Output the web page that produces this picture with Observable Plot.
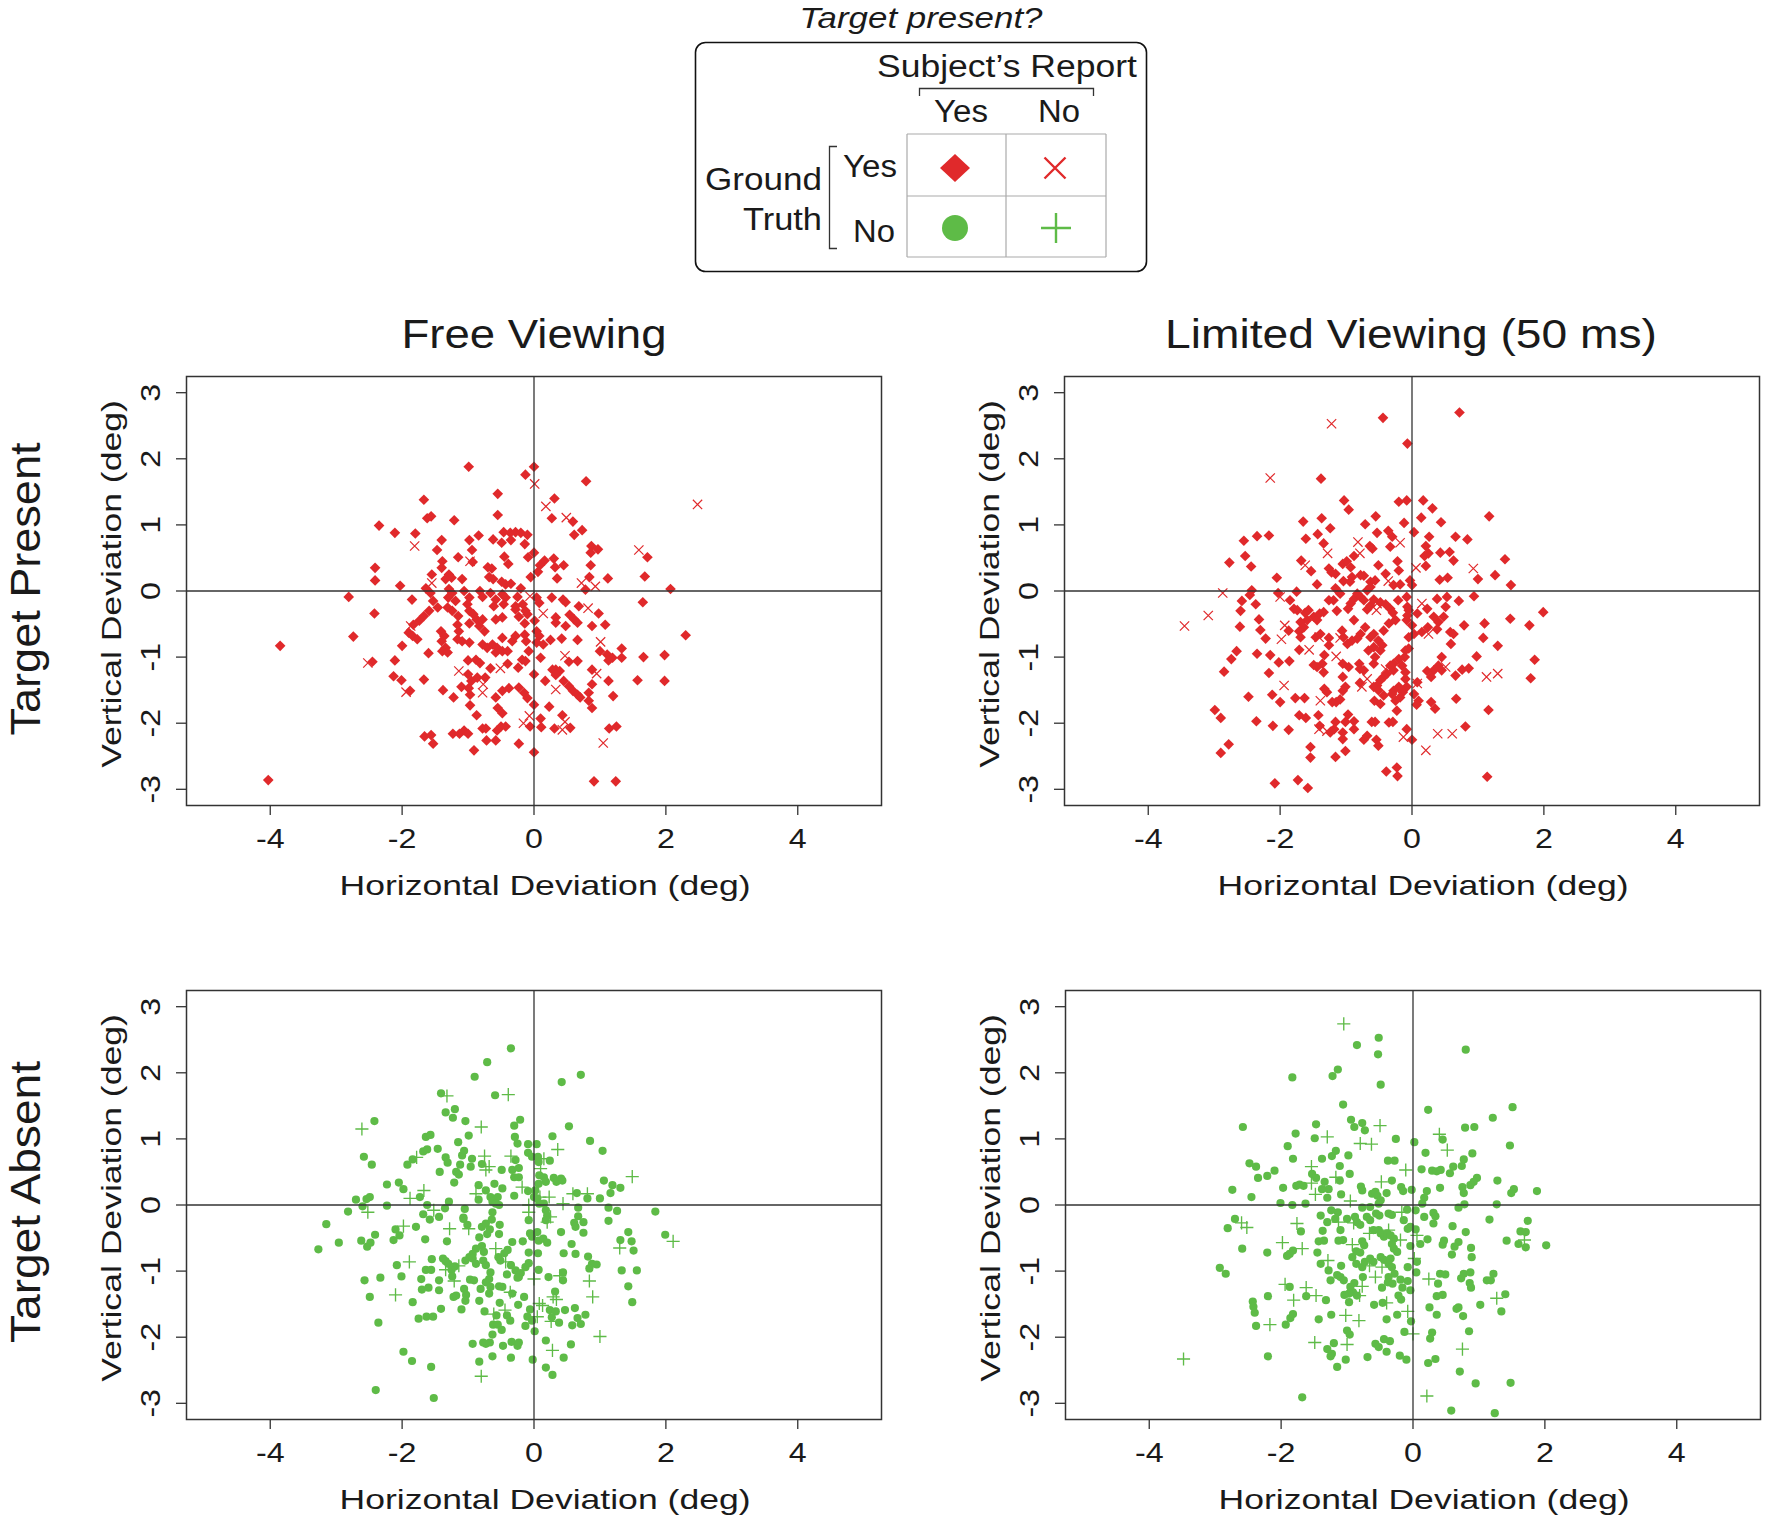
<!DOCTYPE html>
<html>
<head>
<meta charset="utf-8">
<script src="https://cdn.jsdelivr.net/npm/d3@7"></script>
<script src="https://cdn.jsdelivr.net/npm/@observablehq/plot@0.6"></script>
<style>
  html, body { margin: 0; padding: 0; background: #fff; }
  #root { position: relative; width: 1770px; height: 1524px; overflow: hidden; background: #fff; }
  .layer { position: absolute; left: 0; top: 0; }
</style>
</head>
<body>
<div id="root"></div>
<script>
// ---------------- DATA ----------------
const columnTitles = ["Free Viewing", "Limited Viewing (50 ms)"];
const rowTitles = ["Target Present", "Target Absent"];
const xLabel = "Horizontal Deviation (deg)";
const yLabel = "Vertical Deviation (deg)";
const xTicks = [-4, -2, 0, 2, 4];
const yTicks = [-3, -2, -1, 0, 1, 2, 3];
const legendTitle = "Target present?";
const legendReport = "Subject\u2019s Report";
const legendAnswers = ["Yes", "No"];
const legendTruth = ["Ground", "Truth"];

// Target present, free viewing: reported yes (diamond)
const freePresentYes = [[-0.99,1.88],[0,1.88],[-0.13,1.76],[0.79,1.66],[-0.55,1.47],[0.31,1.40],[-1.67,1.38],[-0.55,1.15],[-1.62,1.10],[-1.56,1.13],[-1.21,1.07],[0.27,1.10],[0.59,1.05],[-2.35,0.99],[-2.11,0.88],[-1.80,0.87],[-0.84,0.84],[-0.46,0.89],[-0.36,0.88],[-0.28,0.89],[-0.20,0.88],[-0.10,0.85],[0.73,0.92],[0.61,0.85],[-1.40,0.77],[-0.98,0.77],[-0.62,0.78],[-0.49,0.73],[-0.35,0.77],[-0.14,0.71],[0.87,0.68],[0.97,0.63],[0.86,0.58],[-1.47,0.62],[-0.94,0.62],[0,0.58],[-1.15,0.51],[-0.93,0.44],[-1.39,0.45],[-0.45,0.52],[-0.39,0.41],[-0.09,0.51],[0.16,0.46],[0.09,0.39],[0.30,0.49],[0.32,0.36],[0.45,0.39],[0.86,0.39],[1.72,0.51],[-2.41,0.35],[-2.41,0.16],[-1.55,0.25],[-1.40,0.35],[-1.29,0.25],[-1.25,0.20],[-1.34,0.18],[-1.09,0.18],[-0.70,0.36],[-0.64,0.34],[-0.68,0.21],[-0.62,0.18],[-0.49,0.14],[-0.43,0.10],[-0.35,0.11],[-0.05,0.21],[0.06,0.29],[0.35,0.19],[0.84,0.21],[1.12,0.19],[1.68,0.22],[0.78,0.02],[2.07,0.03],[-2.03,0.08],[-1.64,0.04],[-1.57,-0.03],[-2.81,-0.09],[-1.85,-0.13],[-1.29,0.03],[-1.24,-0.03],[-1.30,-0.10],[-1.19,-0.15],[-1.06,0],[-0.98,-0.10],[-1.01,-0.20],[-0.82,0],[-0.78,-0.09],[-0.66,-0.03],[-0.58,-0.13],[-0.61,-0.23],[-0.48,-0.05],[-0.43,-0.10],[-0.46,-0.20],[-0.25,-0.09],[-0.20,0.04],[-0.28,-0.23],[-0.17,-0.20],[-0.13,-0.30],[0.04,-0.10],[0.08,-0.18],[0.27,-0.10],[0.44,-0.13],[0.48,-0.17],[-1.53,-0.15],[-1.46,-0.25],[-1.59,-0.30],[-1.67,-0.38],[-1.74,-0.45],[-1.83,-0.51],[-1.90,-0.63],[-1.84,-0.68],[-1.77,-0.73],[-1.31,-0.25],[-1.24,-0.30],[-1.15,-0.38],[-0.98,-0.30],[-0.92,-0.35],[-0.87,-0.43],[-0.83,-0.53],[-0.75,-0.61],[-0.48,-0.40],[-0.28,-0.28],[-0.23,-0.39],[-0.10,-0.35],[-0.14,-0.49],[0.01,-0.45],[0.04,-0.61],[0.08,-0.68],[0.33,-0.40],[0.33,-0.48],[0.48,-0.53],[0.54,-0.36],[0.61,-0.43],[0.66,-0.48],[0.68,-0.23],[0.98,-0.34],[0.88,-0.53],[1.08,-0.51],[1.65,-0.17],[2.30,-0.67],[-2.42,-0.34],[-2.74,-0.69],[-3.85,-0.83],[-1.41,-0.61],[-1.36,-0.68],[-1.40,-0.76],[-1.34,-0.86],[-1.39,-0.91],[-1.31,-0.93],[-1.14,-0.61],[-1.16,-0.73],[-1.09,-0.76],[-0.98,-0.78],[-0.78,-0.81],[-0.71,-0.86],[-0.63,-0.81],[-0.56,-0.86],[-0.48,-0.71],[-0.33,-0.76],[-0.28,-0.68],[-0.14,-0.66],[-0.58,-0.93],[-0.48,-0.91],[-0.40,-0.91],[-0.12,-0.76],[-0.08,-0.91],[0.04,-0.78],[0.14,-0.81],[0.25,-0.74],[0.42,-0.72],[0.66,-0.74],[1.0,-0.91],[1.11,-0.96],[1.19,-1.01],[1.33,-0.87],[1.33,-1.01],[1.13,-1.05],[1.66,-1.00],[1.98,-0.97],[-2.0,-0.83],[-1.60,-0.94],[-2.45,-1.07],[-2.11,-1.05],[-2.13,-1.29],[-2.01,-1.35],[-1.67,-1.34],[-1.88,-1.51],[-1.38,-1.50],[-1.22,-1.61],[-1.10,-1.45],[-0.99,-1.47],[-1.0,-1.05],[-0.88,-1.04],[-0.82,-1.09],[-0.95,-1.36],[-0.86,-1.31],[-0.74,-1.31],[-0.66,-1.17],[-0.40,-1.10],[-0.24,-1.16],[-0.18,-1.04],[-0.13,-1.06],[-0.97,-1.57],[-0.97,-1.73],[-0.58,-1.61],[-0.48,-1.51],[-0.38,-1.47],[-0.23,-1.46],[-0.15,-1.54],[-0.10,-1.62],[0,-1.26],[0.10,-1.01],[0.28,-1.19],[0.33,-1.19],[0.39,-1.21],[0.33,-1.27],[0.53,-1.07],[0.66,-1.06],[0.17,-1.36],[0.45,-1.36],[0.53,-1.44],[0.59,-1.51],[0.66,-1.57],[0.70,-1.61],[0.88,-1.19],[0.88,-1.41],[0.83,-1.54],[0.83,-1.66],[0.88,-1.77],[1.13,-1.36],[1.57,-1.35],[1.98,-1.36],[1.20,-1.59],[0,-1.72],[0.23,-1.75],[-0.55,-1.77],[-0.48,-1.85],[-0.87,-1.88],[-0.06,-2.05],[0.10,-1.93],[0.11,-2.06],[0.43,-1.88],[0.31,-2.08],[0.55,-2.07],[-0.78,-2.08],[-0.73,-2.08],[-0.56,-2.11],[-0.50,-2.05],[-0.43,-2.05],[-1.23,-2.16],[-1.13,-2.16],[-1.06,-2.11],[-1.0,-2.16],[-1.66,-2.20],[-1.56,-2.18],[-1.53,-2.31],[-0.72,-2.26],[-0.58,-2.26],[-0.23,-2.31],[-0.91,-2.41],[0,-2.44],[1.14,-2.08],[1.25,-2.05],[0.91,-2.88],[1.24,-2.88],[-4.03,-2.86],[-0.98,-0.49],[-1.16,-0.51],[-0.78,-0.43],[-0.58,-0.43],[-1.00,-1.26]];
// Target present, free viewing: reported no (times)
const freePresentNo = [[0.01,1.62],[0.18,1.28],[2.48,1.31],[0.49,1.11],[-1.81,0.68],[1.59,0.62],[-0.97,0.45],[0.72,0.12],[0.93,0.07],[-1.55,0.12],[-0.06,-0.08],[0.14,-0.34],[-1.87,-0.53],[0.82,-0.26],[1.01,-0.77],[-2.52,-1.09],[-1.94,-1.53],[-1.14,-1.21],[-0.77,-1.41],[-0.51,-1.17],[-0.78,-1.54],[0.33,-1.49],[0.95,-1.25],[-0.07,-1.89],[-0.16,-2.0],[0.47,-1.98],[0.43,-2.1],[1.05,-2.30],[0.47,-0.98]];

// Target present, limited viewing: reported yes (diamond)
const limitedPresentYes = [[0.72,2.70],[-0.44,2.62],[-0.07,2.23],[-1.38,1.70],[-1.03,1.37],[-0.96,1.23],[-0.20,1.35],[-0.08,1.37],[0.17,1.37],[0.31,1.25],[1.17,1.13],[-1.65,1.05],[-1.37,1.10],[-1.24,0.95],[-0.71,1.01],[-0.55,1.13],[-0.12,1.03],[0.14,1.11],[0.44,1.04],[-2.55,0.76],[-2.35,0.83],[-2.17,0.84],[-1.61,0.79],[-1.43,0.86],[-1.34,0.72],[-0.53,0.88],[-0.36,0.91],[-0.30,0.82],[-0.33,0.67],[-0.64,0.68],[-0.60,0.64],[0.03,0.89],[0.26,0.82],[0.21,0.68],[0.66,0.82],[0.84,0.78],[-2.53,0.53],[-2.77,0.43],[-2.44,0.37],[-0.88,0.53],[-0.22,0.45],[0.19,0.53],[0.25,0.57],[0.43,0.58],[0.57,0.59],[0.21,0.38],[0.63,0.46],[1.41,0.48],[1.26,0.24],[1.0,0.18],[1.50,0.09],[-1.68,0.46],[-1.53,0.30],[-1.26,0.34],[-1.22,0.28],[-1.16,0.26],[-1.05,0.41],[-0.99,0.45],[-0.93,0.36],[-1.04,0.15],[-0.91,0.21],[-0.78,0.24],[-0.73,0.23],[-0.51,0.39],[-0.40,0.26],[-0.63,0.14],[-0.56,0.16],[-0.20,0.31],[-0.03,0.16],[0,0.09],[0.42,0.17],[0.54,0.20],[-2.05,0.20],[-1.44,0.10],[-2.43,0.01],[-2.46,-0.06],[-2.58,-0.15],[-2.37,-0.20],[-2.60,-0.30],[-2.61,-0.54],[-2.32,-0.43],[-2.30,-0.59],[-2.22,-0.72],[-2.03,-0.03],[-1.85,-0.14],[-1.75,-0.01],[-1.79,-0.27],[-1.74,-0.29],[-1.87,-0.60],[-2.66,-0.91],[-2.74,-1.03],[-2.85,-1.22],[-2.35,-0.95],[-2.15,-0.97],[-2.17,-1.24],[-2.02,-1.08],[-1.86,-1.06],[-1.71,-0.89],[-2.48,-1.60],[-2.12,-1.57],[-2.0,-1.68],[-1.77,-1.62],[-1.63,-1.62],[-2.99,-1.80],[-2.90,-1.92],[-2.36,-1.97],[-2.11,-2.04],[-1.87,-2.10],[-1.71,-1.88],[-1.61,-1.92],[-2.78,-2.32],[-2.90,-2.45],[-2.08,-2.91],[-1.73,-2.86],[-1.58,-2.98],[-1.62,-0.33],[-1.57,-0.29],[-1.59,-0.44],[-1.69,-0.47],[-1.64,-0.55],[-1.49,-0.39],[-1.44,-0.44],[-1.40,-0.34],[-1.34,-0.32],[-1.19,-0.14],[-1.14,-0.30],[-0.93,-0.19],[-0.97,-0.27],[-0.88,-0.12],[-0.83,-0.04],[-0.78,-0.09],[-0.73,-0.14],[-0.68,-0.28],[-0.63,-0.22],[-0.58,-0.13],[-0.48,-0.17],[-0.40,-0.20],[-0.33,-0.27],[-0.29,-0.33],[-0.21,-0.14],[-0.25,-0.44],[-0.35,-0.49],[-0.43,-0.60],[-0.08,-0.09],[-0.05,-0.29],[-0.08,-0.44],[0,-0.52],[0.03,-0.65],[-0.05,-0.70],[0.08,-0.34],[0.23,-0.27],[0.38,-0.12],[0.53,-0.09],[0.71,-0.15],[0.51,-0.24],[0.48,-0.39],[0.40,-0.47],[0.33,-0.39],[0.24,-0.55],[0.15,-0.62],[0.38,-0.58],[0.58,-0.62],[0.63,-0.65],[0.79,-0.52],[0.94,-0.08],[1.10,-0.49],[1.49,-0.42],[1.78,-0.52],[1.99,-0.32],[1.08,-0.71],[0.59,-0.80],[1.30,-0.83],[0.98,-0.99],[1.86,-1.04],[1.80,-1.32],[1.16,-1.80],[0.81,-2.05],[1.14,-2.81],[0.67,-1.63],[0.76,-1.19],[0.86,-1.17],[0.66,-1.28],[0.45,-1.0],[0.40,-1.13],[0.45,-1.20],[0.33,-1.20],[0.23,-1.21],[0.29,-1.30],[0.08,-1.38],[0.03,-1.56],[0.10,-1.66],[0.07,-1.72],[0.29,-1.68],[0.35,-1.78],[0,-2.25],[-0.08,-2.09],[-0.10,-1.33],[-0.08,-1.45],[-0.14,-1.53],[-0.18,-1.61],[-0.20,-1.45],[-0.28,-1.51],[-0.30,-1.56],[-0.25,-1.66],[-0.23,-1.81],[-0.10,-0.90],[-0.11,-1.0],[-0.15,-1.13],[-0.10,-1.23],[-0.33,-1.13],[-0.28,-1.20],[-0.38,-1.25],[-0.43,-1.30],[-0.48,-1.35],[-0.53,-1.43],[-0.58,-1.45],[-0.51,-1.50],[-0.43,-1.58],[-0.48,-1.71],[-0.57,-1.66],[-0.79,-1.39],[-0.80,-1.10],[-0.79,-1.18],[-0.73,-1.20],[-0.58,-1.10],[-0.56,-1.0],[-0.66,-0.90],[-0.58,-0.85],[-0.51,-0.75],[-0.48,-0.90],[-0.45,-0.82],[-0.78,-0.65],[-0.83,-0.72],[-0.91,-0.75],[-0.98,-0.80],[-1.04,-0.70],[-1.06,-0.60],[-0.88,-0.44],[-0.71,-0.55],[-0.63,-0.70],[-0.58,-0.65],[-1.26,-0.71],[-1.26,-0.82],[-1.33,-0.97],[-1.36,-1.10],[-1.44,-1.15],[-1.49,-1.12],[-1.34,-1.23],[-1.05,-1.10],[-0.96,-1.15],[-1.05,-1.30],[-1.01,-1.45],[-1.05,-1.51],[-1.33,-1.48],[-1.29,-1.53],[-1.21,-1.68],[-1.15,-1.68],[-1.09,-1.64],[-1.42,-1.88],[-1.16,-1.98],[-1.01,-1.98],[-0.97,-1.87],[-0.88,-1.97],[-1.40,-2.04],[-1.24,-2.14],[-1.18,-2.09],[-1.05,-2.14],[-1.05,-2.24],[-0.88,-2.09],[-0.73,-2.25],[-0.68,-2.19],[-0.54,-2.25],[-0.51,-2.34],[-0.61,-1.98],[-0.56,-1.98],[-0.35,-1.99],[-0.29,-1.98],[-1.54,-2.36],[-1.54,-2.52],[-1.16,-2.51],[-1.01,-2.42],[-0.39,-2.73],[-0.23,-2.67],[-0.22,-2.80],[-1.71,-0.61],[-1.69,-0.70],[-1.46,-0.70],[-1.39,-0.65],[-1.26,-0.14],[-0.94,0.14],[-1.16,0.04],[-1.09,-0.04],[-0.68,0.01],[-0.63,0.06],[-0.28,0.09],[-0.18,0.10],[-0.07,-0.24],[-0.07,-0.37],[-0.20,-1.03],[-0.28,-1.10],[-0.05,-0.87]];
// Target present, limited viewing: reported no (times)
const limitedPresentNo = [[-1.22,2.53],[-2.15,1.71],[-0.82,0.74],[-0.18,0.73],[-1.28,0.57],[-0.79,0.57],[0.93,0.34],[-1.62,0.39],[-0.36,0.15],[0.06,0.35],[-2.87,-0.03],[-2.0,-0.09],[-3.09,-0.37],[-3.45,-0.53],[-1.93,-0.52],[-1.98,-0.73],[-1.56,-0.89],[-1.94,-1.43],[-0.53,-0.19],[-0.54,-0.29],[0.15,-0.19],[0.25,-0.65],[1.13,-1.30],[1.30,-1.25],[0.51,-1.15],[0.08,-1.40],[0.39,-2.16],[0.61,-2.16],[0.21,-2.41],[-0.13,-2.21],[-0.68,-1.33],[-0.76,-1.45],[-0.40,-1.18],[-1.09,-0.71],[-1.15,-0.99],[-1.39,-1.66],[-1.41,-2.09],[-1.29,-2.12],[-1.41,-0.70]];

// Target absent, free viewing: reported yes (circle)
const freeAbsentYes = [[-0.35,2.37],[-0.71,2.16],[-0.90,1.94],[0.71,1.97],[0.42,1.86],[-1.41,1.69],[-0.59,1.66],[-1.34,1.40],[-1.20,1.45],[-1.23,1.32],[-2.42,1.27],[-1.04,1.27],[-0.21,1.29],[-0.30,1.20],[0.53,1.19],[-0.99,1.05],[-1.64,1.03],[-1.57,1.06],[0.28,1.04],[-0.29,1.03],[-0.25,0.93],[-0.09,0.92],[0.04,0.92],[0.85,0.97],[1.04,0.82],[-1.15,0.95],[-1.46,0.85],[-1.68,0.81],[-1.62,0.84],[-2.58,0.73],[-2.46,0.61],[-1.84,0.69],[-1.92,0.61],[-1.34,0.72],[-1.09,0.75],[-1.06,0.82],[-0.94,0.70],[-0.79,0.62],[-1.12,0.61],[-0.96,0.58],[-1.31,0.64],[-1.43,0.50],[-1.18,0.50],[-1.14,0.46],[-1.21,0.34],[-0.28,0.68],[-0.33,0.53],[-0.23,0.56],[-0.49,0.53],[-0.09,0.79],[-0.03,0.73],[0.06,0.73],[0.07,0.65],[0.24,0.67],[0.08,0.45],[0.15,0.42],[0.18,0.35],[0.07,0.32],[0.30,0.41],[0.41,0.40],[-0.30,0.42],[-0.23,0.42],[1.06,0.37],[1.19,0.30],[1.31,0.26],[1.16,0.18],[-2.23,0.31],[-2.05,0.34],[-1.98,0.24],[-1.73,0.12],[-2.70,0.08],[-2.54,0.09],[-2.49,0.12],[-2.60,-0.02],[-2.82,-0.10],[-2.23,-0.01],[-1.62,0],[-1.68,-0.14],[-1.58,-0.22],[-1.44,-0.18],[-1.35,-0.05],[-1.29,0.05],[-1.05,-0.06],[-1.07,-0.19],[-0.84,0.30],[-0.73,0.22],[-0.60,0.32],[-0.48,0.25],[-0.84,0.08],[-0.66,0.12],[-0.55,0.12],[-0.53,0],[-0.63,0.05],[-0.58,0.02],[-0.30,0.14],[-0.09,0.21],[0,0.12],[0.05,0.10],[0.08,0.02],[0.15,0.02],[0.02,0.22],[0.18,-0.08],[0.20,-0.16],[0.18,-0.23],[0.34,0.35],[0.43,0.37],[0.65,0.18],[0.81,0.10],[1.0,0.10],[0.67,-0.04],[1.13,-0.04],[1.26,-0.09],[0.67,-0.17],[0.75,-0.26],[0.61,-0.27],[0.63,-0.33],[0.75,-0.42],[1.13,-0.24],[1.84,-0.10],[1.99,-0.45],[1.43,-0.41],[1.31,-0.53],[1.48,-0.55],[1.51,-0.69],[1.33,-0.99],[1.56,-0.99],[1.43,-1.23],[1.49,-1.47],[-3.15,-0.29],[-3.27,-0.67],[-2.96,-0.57],[-2.62,-0.54],[-2.53,-0.63],[-2.48,-0.57],[-2.41,-0.45],[-2.13,-0.53],[-2.10,-0.37],[-2.04,-0.46],[-1.79,-0.33],[-1.65,-0.52],[-1.32,-0.55],[-1.07,-0.21],[-1.01,-0.30],[-0.79,-0.33],[-0.73,-0.28],[-0.67,-0.37],[-0.71,-0.44],[-0.63,-0.11],[-0.52,-0.30],[-0.53,-0.44],[-0.64,-0.22],[-0.08,-0.23],[-0.06,-0.43],[-0.03,-0.48],[0.05,-0.41],[0.07,-0.54],[0.14,-0.51],[0.20,-0.57],[-0.83,-0.49],[-0.33,-0.56],[-0.17,-0.55],[0.41,-0.41],[0.57,-0.59],[0.63,-0.74],[0.82,-0.78],[0.45,-0.73],[-0.79,-0.62],[-0.76,-0.71],[-0.88,-0.66],[-0.93,-0.74],[-0.98,-0.79],[-1.04,-0.84],[-0.93,-0.81],[-0.88,-0.89],[-0.77,-0.84],[-0.73,-0.91],[-0.66,-1.02],[-0.68,-1.12],[-0.73,-1.17],[-0.54,-0.79],[-0.51,-0.84],[-0.40,-0.68],[-0.45,-0.73],[-0.35,-0.91],[-0.28,-0.99],[-0.23,-1.09],[-0.20,-1.03],[-0.13,-0.94],[-0.08,-0.88],[-0.08,-0.72],[0.06,-0.73],[0.07,-0.98],[0.22,-1.09],[0.44,-1.02],[0.44,-1.14],[0.88,-0.89],[0.95,-0.90],[0.84,-0.96],[-0.41,-1.05],[-0.25,-1.10],[-1.34,-0.85],[-1.30,-0.89],[-1.25,-0.98],[-1.20,-0.93],[-1.24,-1.08],[-1.38,-0.81],[-1.55,-0.82],[-1.64,-0.98],[-1.56,-0.98],[-2.08,-0.91],[-2.01,-1.08],[-2.33,-1.10],[-2.57,-1.14],[-2.49,-1.39],[-2.36,-1.78],[-1.84,-1.47],[-1.71,-1.12],[-1.70,-1.28],[-1.60,-1.25],[-1.44,-1.14],[-1.44,-1.29],[-1.41,-1.57],[-1.75,-1.72],[-1.63,-1.69],[-1.53,-1.69],[-1.22,-1.39],[-1.18,-1.37],[-1.10,-1.58],[-1.06,-1.27],[-1.03,-1.36],[-1.04,-1.45],[-0.97,-1.13],[-0.91,-1.14],[-0.81,-1.27],[-0.83,-1.45],[-0.66,-1.24],[-0.68,-1.34],[-0.75,-1.61],[-0.52,-1.48],[-0.53,-1.23],[-0.48,-1.24],[-0.33,-1.34],[-0.15,-1.39],[-0.24,-1.51],[-0.57,-1.67],[-0.41,-1.67],[-0.36,-1.75],[-0.62,-1.81],[-0.55,-1.81],[-0.49,-1.89],[-0.63,-1.96],[-0.06,-1.58],[-0.10,-1.69],[-0.13,-1.83],[-0.03,-1.75],[0.01,-1.91],[0.24,-1.59],[0.33,-1.61],[0.27,-1.70],[0.32,-1.31],[0.38,-1.78],[0.47,-1.59],[0.62,-1.56],[0.66,-1.71],[0.71,-1.80],[0.58,-1.82],[0.78,-1.66],[-0.93,-2.10],[-0.77,-2.08],[-0.73,-2.10],[-0.67,-2.08],[-0.47,-2.13],[-0.34,-2.07],[-0.25,-2.13],[-0.23,-2.08],[-0.83,-2.37],[-0.63,-2.29],[-0.35,-2.31],[-0.02,-2.34],[0.18,-2.05],[0.56,-2.11],[0.45,-2.31],[0.18,-2.46],[0.28,-2.57],[-1.98,-2.22],[-1.85,-2.36],[-1.56,-2.45],[-2.40,-2.80],[-1.52,-2.92]];
// Target absent, free viewing: reported no (plus)
const freeAbsentNo = [[-1.32,1.65],[-0.39,1.67],[-2.61,1.15],[-0.80,1.18],[0.36,0.84],[-1.78,0.72],[-0.75,0.74],[-0.68,0.58],[-0.73,0.53],[-0.35,0.74],[0.15,0.70],[0.10,0.55],[1.49,0.43],[-1.67,0.22],[-1.88,0.10],[-2.52,-0.11],[-1.52,-0.08],[-0.88,0.17],[-0.18,0.27],[0.09,0.12],[0.23,0.12],[-0.08,0],[-0.08,-0.11],[0.25,-0.18],[0.20,-0.26],[0.44,0.02],[0.59,0.17],[0.81,0.17],[2.11,-0.55],[1.30,-0.65],[-1.98,-0.32],[-1.28,-0.36],[-0.99,-0.36],[-0.58,-0.66],[-0.43,-0.86],[0,-1.12],[0.39,-1.07],[0.84,-1.15],[0.89,-1.39],[-1.34,-0.98],[-1.14,-0.92],[-1.89,-0.86],[-2.10,-1.36],[-1.21,-1.15],[-0.61,-1.65],[-0.44,-1.59],[-0.36,-1.32],[0.08,-1.49],[0.13,-1.52],[0.05,-1.69],[0.29,-1.39],[0.34,-1.43],[0.26,-1.76],[1.0,-1.99],[0.28,-2.20],[-0.80,-2.59]];

// Target absent, limited viewing: reported yes (circle)
const limitedAbsentYes = [[-0.52,2.53],[-0.85,2.42],[-0.53,2.28],[0.80,2.35],[-1.14,2.05],[-1.22,1.95],[-1.83,1.93],[-0.49,1.82],[-1.06,1.52],[0.23,1.44],[1.51,1.48],[1.21,1.32],[-2.58,1.18],[-0.94,1.29],[-0.89,1.18],[-0.77,1.24],[-0.73,1.13],[-1.47,1.22],[-1.78,1.08],[-1.49,1.01],[0.79,1.17],[0.93,1.18],[0.45,0.99],[-0.26,1.0],[0.02,0.95],[1.47,0.90],[-1.90,0.89],[-1.82,0.70],[-1.38,0.70],[-1.23,0.74],[-1.17,0.82],[-0.98,0.75],[-0.38,0.67],[-0.28,0.67],[0.19,0.79],[0.90,0.78],[0.77,0.69],[0.74,0.59],[0.61,0.58],[0.56,0.48],[-2.48,0.63],[-2.38,0.58],[-2.35,0.41],[-2.21,0.44],[-2.10,0.52],[-1.53,0.47],[-1.47,0.41],[-1.11,0.59],[-0.96,0.47],[-1.11,0.37],[0.13,0.54],[0.29,0.52],[0.36,0.51],[0.42,0.53],[0.97,0.41],[0.92,0.35],[0.87,0.30],[0.75,0.27],[0.77,0.18],[1.28,0.37],[1.53,0.24],[1.49,0.18],[1.88,0.21],[-2.74,0.23],[-2.45,0.12],[-1.97,0.26],[-1.77,0.29],[-1.72,0.31],[-1.66,0.29],[-1.34,0.35],[-1.28,0.24],[-1.38,0.24],[-1.09,0.16],[-0.32,0.37],[-0.79,0.28],[-0.77,0.22],[-0.62,0.17],[-0.57,0.20],[-0.54,0.14],[-0.49,0.07],[-0.40,0.18],[-0.18,0.27],[-0.15,0.21],[-0.02,0.23],[0.21,0.21],[0.17,0.11],[0.14,0.02],[0.41,0.26],[0.69,-0.04],[0.78,0.01],[1.27,0.01],[-2.01,0.03],[-1.83,0],[-1.63,0.02],[-1.30,0.11],[-0.77,-0.04],[-0.65,-0.03],[-0.52,0.02],[-0.56,-0.13],[-0.51,-0.16],[-0.37,-0.13],[-0.32,-0.15],[-0.09,-0.07],[0.04,-0.08],[-1.24,-0.08],[-1.14,-0.11],[-1.18,-0.21],[-1.40,-0.16],[-1.30,-0.26],[-1.0,-0.21],[-0.88,-0.18],[-0.85,-0.26],[-0.80,-0.30],[-0.70,-0.18],[-0.65,-0.23],[0.17,-0.18],[0.31,-0.12],[0.34,-0.17],[0.31,-0.28],[1.16,-0.22],[1.74,-0.24],[-2.70,-0.21],[-2.81,-0.35],[-1.70,-0.40],[-1.37,-0.39],[-1.35,-0.54],[-1.43,-0.55],[-1.10,-0.38],[-1.06,-0.53],[-1.13,-0.54],[-0.86,-0.70],[-0.80,-0.72],[-0.77,-0.55],[-0.74,-0.61],[-0.60,-0.38],[-0.52,-0.38],[-0.49,-0.43],[-0.44,-0.48],[-0.39,-0.43],[-0.34,-0.46],[-0.29,-0.51],[-0.32,-0.59],[-0.29,-0.66],[-0.24,-0.71],[-0.08,-0.36],[0.04,-0.37],[0.11,-0.59],[0.22,-0.52],[-0.04,-0.62],[0.47,-0.54],[0.45,-0.60],[0.60,-0.32],[0.69,-0.56],[0.63,-0.63],[0.59,-0.75],[0.80,-0.41],[0.88,-0.65],[0.89,-0.79],[1.42,-0.54],[1.60,-0.59],[1.63,-0.40],[1.71,-0.41],[1.71,-0.64],[2.02,-0.61],[-2.59,-0.66],[-2.21,-0.72],[-1.91,-0.77],[-1.87,-0.74],[-1.82,-0.69],[-1.45,-0.72],[-1.40,-0.89],[-1.28,-0.99],[-1.25,-1.14],[-1.15,-1.06],[-1.09,-0.92],[-1.10,-1.09],[-1.05,-1.14],[-0.92,-0.79],[-0.86,-0.89],[-0.77,-0.94],[-0.73,-0.86],[-0.65,-0.81],[-0.60,-0.86],[-0.49,-0.79],[-0.44,-0.83],[-0.34,-0.81],[-0.37,-0.89],[-0.32,-0.94],[-0.28,-1.04],[-0.37,-1.09],[-0.38,-1.17],[-0.31,-1.19],[-0.19,-1.13],[-0.16,-1.25],[-0.08,-1.15],[-0.76,-1.09],[-0.47,-1.25],[-0.89,-1.18],[-0.95,-1.24],[-0.91,-1.32],[-0.85,-1.37],[-0.97,-1.34],[-0.22,-1.37],[-0.18,-1.43],[-0.04,-1.29],[-0.08,-0.94],[0.05,-1.02],[0.06,-0.86],[0.41,-1.04],[0.49,-1.05],[0.38,-1.19],[0.73,-1.11],[0.77,-1.04],[0.87,-1.02],[0.86,-1.18],[0.88,-1.25],[1.12,-1.14],[1.18,-1.14],[1.22,-1.04],[1.40,-1.35],[1.34,-1.61],[1.02,-1.51],[0.66,-1.57],[0.69,-1.55],[0.76,-1.68],[0.85,-1.91],[0.36,-1.38],[0.45,-1.36],[0.25,-1.55],[0.36,-1.66],[-0.03,-1.76],[-0.13,-1.92],[0.29,-1.93],[0.26,-2.02],[-0.24,-1.66],[-0.40,-1.73],[-0.59,-1.51],[-0.46,-1.48],[-0.97,-1.47],[-1.04,-1.36],[-1.32,-1.44],[-1.24,-1.66],[-1.0,-1.90],[-0.96,-1.96],[-1.43,-1.73],[-1.87,-1.24],[-1.62,-1.38],[-2.20,-1.38],[-2.43,-1.46],[-2.42,-1.54],[-2.40,-1.63],[-2.38,-1.83],[-1.93,-1.81],[-1.86,-1.71],[-1.82,-1.65],[-2.93,-0.95],[-2.84,-1.04],[-2.20,-2.29],[-1.20,-2.09],[-1.30,-2.18],[-1.23,-2.25],[-1.25,-2.29],[-1.15,-2.45],[-1.02,-2.34],[-0.69,-2.30],[-0.57,-2.10],[-0.52,-2.15],[-0.44,-2.03],[-0.35,-2.06],[-0.40,-2.22],[-0.20,-2.28],[-0.10,-2.34],[0.23,-2.39],[0.34,-2.33],[0.71,-2.52],[0.95,-2.70],[1.48,-2.69],[0.58,-3.11],[1.24,-3.15],[-1.68,-2.91],[-0.04,-0.33],[-0.14,-0.23]];
// Target absent, limited viewing: reported no (plus)
const limitedAbsentNo = [[-1.05,2.74],[-0.50,1.20],[-1.30,1.03],[0.40,1.07],[-0.80,0.93],[-0.63,0.92],[0.52,0.83],[-1.54,0.58],[-1.17,0.42],[-0.11,0.53],[-1.54,0.33],[-1.48,0.16],[-0.95,0.06],[-0.48,0.35],[-0.17,-0.11],[-1.13,-0.26],[-0.90,-0.27],[-2.60,-0.27],[-2.52,-0.34],[-1.76,-0.28],[-0.92,-0.60],[-0.66,-0.43],[-0.37,-0.38],[-0.19,-0.53],[0.06,-0.46],[1.69,-0.53],[-1.98,-0.57],[-1.68,-0.66],[-1.29,-0.84],[-0.66,-0.92],[-0.47,-0.94],[-0.57,-1.09],[-0.77,-1.23],[-0.81,-1.37],[0.02,-0.81],[0.24,-1.12],[1.27,-1.41],[-0.08,-1.61],[0,-1.95],[0.75,-2.18],[-0.40,-1.48],[-1.02,-1.67],[-0.82,-1.75],[-1.47,-1.37],[-1.62,-1.25],[-1.94,-1.20],[-1.81,-1.44],[-2.17,-1.81],[-1.49,-2.08],[-1.0,-2.11],[0.21,-2.89],[-3.48,-2.33]];

// ---------------- STYLE / LAYOUT ----------------
const FONT = '"Liberation Sans", Arial, Helvetica, sans-serif';
const RED = "#E0292B";
const GREEN = "#5EBB47";
const INK = "#1a1a1a";
const root = document.getElementById("root");

function stretch(t, k) {
  const len = t.getComputedTextLength();
  if (len > 0) {
    t.setAttribute("textLength", (len * k).toFixed(2));
    t.setAttribute("lengthAdjust", "spacingAndGlyphs");
  }
}

function panel({yes, no, color, yesSymbol, noSymbol, yesR, noR, noWidth, frameLeft, frameTop}) {
  const mL = 110, mR = 6, mT = 4, mB = 112, W = 695, H = 429;
  const svg = Plot.plot({
    width: W + mL + mR, height: H + mT + mB,
    marginLeft: mL, marginRight: mR, marginTop: mT, marginBottom: mB,
    style: {fontFamily: FONT, background: "transparent", color: INK, overflow: "visible"},
    x: {domain: [-5.27, 5.27]},
    y: {domain: [-3.245, 3.245]},
    marks: [
      Plot.dot(no, {x: d => d[0], y: d => d[1], symbol: noSymbol, r: noR, stroke: color, strokeWidth: noWidth, fill: "none"}),
      Plot.dot(yes, {x: d => d[0], y: d => d[1], symbol: yesSymbol, r: yesR, fill: color, stroke: "none"}),
      Plot.ruleX([0], {stroke: "#333", strokeWidth: 1.3}),
      Plot.ruleY([0], {stroke: "#333", strokeWidth: 1.3}),
      Plot.frame({stroke: "#333", strokeWidth: 1.5}),
      Plot.axisX({ticks: xTicks, tickSize: 10, tickPadding: 13, fontSize: 28, tickFormat: d => String(d), label: null, stroke: "#333", strokeWidth: 1.3}),
      Plot.axisY({ticks: yTicks, tickSize: 10, tickPadding: 17, tickRotate: -90, fontSize: 28, tickFormat: d => String(d), label: null, stroke: "#333", strokeWidth: 1.3}),
      Plot.text([xLabel], {frameAnchor: "bottom", textAnchor: "middle", lineAnchor: "bottom", dx: 11, dy: 89, fontSize: 28, fill: INK}),
      Plot.text([yLabel], {frameAnchor: "left", textAnchor: "middle", rotate: -90, lineAnchor: "bottom", dx: -66, dy: -7, fontSize: 28, fill: INK})
    ]
  });
  const holder = document.createElement("div");
  holder.className = "layer";
  holder.style.left = (frameLeft - mL) + "px";
  holder.style.top = (frameTop - mT) + "px";
  holder.appendChild(svg);
  root.appendChild(holder);
  svg.querySelectorAll('g[aria-label="x-axis tick label"] text, g[aria-label="y-axis tick label"] text').forEach(t => stretch(t, 1.15));
  svg.querySelectorAll('g[aria-label="text"] text').forEach(t => stretch(t, 1.27));
}

// Overlay for titles, row labels and legend
const ov = d3.select(root).append("svg")
  .attr("class", "layer")
  .attr("width", 1770).attr("height", 1524)
  .style("font-family", FONT);

function label(str, {x, y, size, anchor = "middle", rotate = 0, length = null, italic = false}) {
  const t = ov.append("text")
    .attr("transform", `translate(${x},${y})` + (rotate ? ` rotate(${rotate})` : ""))
    .attr("text-anchor", anchor)
    .attr("font-size", size)
    .attr("fill", INK)
    .text(str);
  if (italic) t.attr("font-style", "italic");
  if (length) t.attr("textLength", length).attr("lengthAdjust", "spacingAndGlyphs");
  return t;
}

// Column titles
label(columnTitles[0], {x: 534, y: 348, size: 40, length: 265});
label(columnTitles[1], {x: 1411, y: 348, size: 40, length: 492});
// Row titles
label(rowTitles[0], {x: 40, y: 589, size: 43, rotate: -90, length: 293});
label(rowTitles[1], {x: 40, y: 1202, size: 43, rotate: -90, length: 282});

// Legend
label(legendTitle, {x: 921, y: 28, size: 30, italic: true, length: 243});
ov.append("rect").attr("x", 695.5).attr("y", 42.5).attr("width", 451).attr("height", 229)
  .attr("rx", 10).attr("fill", "none").attr("stroke", "#111").attr("stroke-width", 1.6);
label(legendReport, {x: 877, y: 77, size: 31, anchor: "start", length: 260});
ov.append("path").attr("d", "M919.5,96 V88.5 H1093.5 V96").attr("fill", "none").attr("stroke", "#333").attr("stroke-width", 1.3);
label(legendAnswers[0], {x: 961, y: 122, size: 31, length: 54});
label(legendAnswers[1], {x: 1059, y: 122, size: 31, length: 42});
label(legendAnswers[0], {x: 897, y: 177, size: 31, anchor: "end", length: 54});
label(legendAnswers[1], {x: 895, y: 242, size: 31, anchor: "end", length: 42});
label(legendTruth[0], {x: 822, y: 190, size: 31, anchor: "end", length: 117});
label(legendTruth[1], {x: 822, y: 230, size: 31, anchor: "end", length: 79});
ov.append("path").attr("d", "M837,146.5 H829.5 V248.5 H837").attr("fill", "none").attr("stroke", "#333").attr("stroke-width", 1.3);
// grid
const gx = [907, 1006, 1106], gy = [134, 196, 257];
gx.forEach(x => ov.append("line").attr("x1", x).attr("x2", x).attr("y1", gy[0]).attr("y2", gy[2]).attr("stroke", "#aaa").attr("stroke-width", 1.2));
gy.forEach(y => ov.append("line").attr("x1", gx[0]).attr("x2", gx[2]).attr("y1", y).attr("y2", y).attr("stroke", "#aaa").attr("stroke-width", 1.2));
// symbols
ov.append("path").attr("d", "M955,154 L970,168 L955,182 L940,168 Z").attr("fill", RED);
ov.append("path").attr("d", "M1044.5,157.5 L1065.5,178.5 M1044.5,178.5 L1065.5,157.5").attr("stroke", RED).attr("stroke-width", 2.4).attr("fill", "none");
ov.append("circle").attr("cx", 955).attr("cy", 228).attr("r", 13).attr("fill", GREEN);
ov.append("path").attr("d", "M1041,228 H1071 M1056,213 V243").attr("stroke", GREEN).attr("stroke-width", 2.4).attr("fill", "none");

// Panels
panel({yes: freePresentYes, no: freePresentNo, color: RED, yesSymbol: "diamond2", noSymbol: "times", yesR: 4.8, noR: 4.3, noWidth: 1.2, frameLeft: 186, frameTop: 376});
panel({yes: limitedPresentYes, no: limitedPresentNo, color: RED, yesSymbol: "diamond2", noSymbol: "times", yesR: 4.8, noR: 4.3, noWidth: 1.2, frameLeft: 1064, frameTop: 376});
panel({yes: freeAbsentYes, no: freeAbsentNo, color: GREEN, yesSymbol: "circle", noSymbol: "plus", yesR: 4.1, noR: 4.3, noWidth: 1.35, frameLeft: 186, frameTop: 990});
panel({yes: limitedAbsentYes, no: limitedAbsentNo, color: GREEN, yesSymbol: "circle", noSymbol: "plus", yesR: 4.1, noR: 4.3, noWidth: 1.35, frameLeft: 1065, frameTop: 990});
</script>
</body>
</html>
